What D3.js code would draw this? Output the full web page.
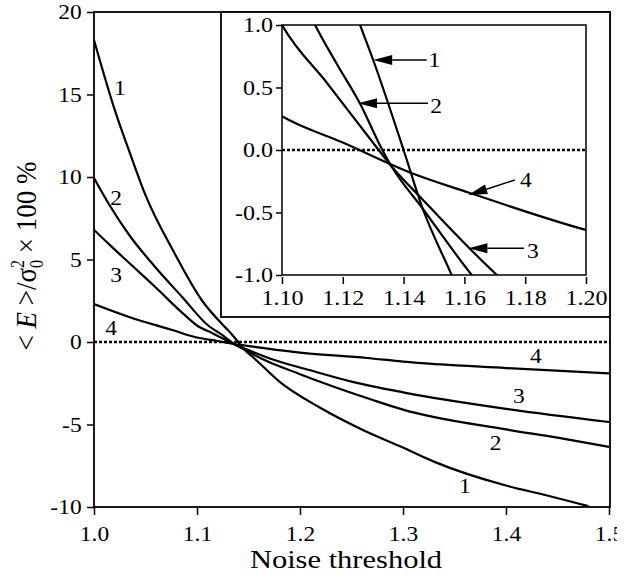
<!DOCTYPE html>
<html><head><meta charset="utf-8">
<script src="https://cdn.jsdelivr.net/npm/d3@7"></script>
<style>
body{margin:0;background:#fff}
svg text{font-family:'Liberation Serif','Tinos','Times New Roman','DejaVu Serif',serif;fill:#000}
</style>
</head><body>
<svg id="c" width="629" height="581"></svg>
<script>
// ---------- data ----------
const seriesNames = ["1", "2", "3", "4"];
const series1 = [[1.0,18.3],[1.021,13.9],[1.034,11.6],[1.05,8.9],[1.078,5.4],[1.105,2.5],[1.1257,1.0],[1.13,0.72],[1.14,0.0],[1.146,-0.45],[1.1558,-1.0],[1.18,-2.4],[1.22,-4.0],[1.26,-5.3],[1.30,-6.4],[1.33,-7.25],[1.40,-8.7],[1.44,-9.3],[1.48,-9.95]];
const series2 = [[1.0,9.94],[1.015,8.3],[1.034,6.5],[1.06,4.5],[1.086,2.7],[1.1109,1.0],[1.118,0.69],[1.1257,0.37],[1.133,0.0],[1.136,-0.13],[1.146,-0.46],[1.1624,-1.0],[1.20,-1.95],[1.27,-3.5],[1.30,-4.1],[1.40,-5.3],[1.45,-5.8],[1.5,-6.36]];
const series3 = [[1.0,6.8],[1.015,5.9],[1.034,4.8],[1.06,3.3],[1.086,1.75],[1.10,1.0],[1.115,0.53],[1.1318,0.0],[1.136,-0.13],[1.146,-0.39],[1.1618,-0.79],[1.1707,-1.0],[1.209,-1.7],[1.25,-2.4],[1.30,-3.05],[1.40,-4.05],[1.5,-4.85]];
const series4 = [[1.0,2.3],[1.034,1.52],[1.076,0.73],[1.10,0.27],[1.12,0.06],[1.1432,-0.19],[1.1613,-0.34],[1.20,-0.64],[1.265,-0.97],[1.30,-1.19],[1.40,-1.58],[1.5,-1.9]];
const allSeries = [series1, series2, series3, series4];

const mainXTicks = [1.0, 1.1, 1.2, 1.3, 1.4, 1.5];
const mainYTicks = [-10, -5, 0, 5, 10, 15, 20];
const insetXTicks = [1.10, 1.12, 1.14, 1.16, 1.18, 1.20];
const insetYTicks = [-1.0, -0.5, 0.0, 0.5, 1.0];

// curve labels in the main plot (data coordinates): upper-left and lower-right
const mainLabelsLeft  = [[1.0252,14.97],[1.0214,8.3],[1.0214,3.64],[1.0165,0.42]];
const mainLabelsRight = [[1.360,-9.15],[1.390,-6.55],[1.4126,-3.7],[1.429,-1.27]];
// inset arrows (data coordinates of the inset): tip, tail, label anchor
const insetArrowTips  = [[1.1300,0.72],[1.1250,0.374],[1.1613,-0.786],[1.1613,-0.36]];
const insetArrowTails = [[1.1476,0.72],[1.1480,0.374],[1.1796,-0.786],[1.1766,-0.24]];
const insetLabelPos   = [[1.1482,0.664],[1.1488,0.296],[1.1806,-0.864],[1.1783,-0.296]];

const xLabel = "Noise threshold";

// ---------- layout ----------
const svg = d3.select("#c");
const defs = svg.append("defs");
const M = {l:94, r:610, t:12, b:507};
const I = {l:282, r:586, t:25, b:275};
const IBOX = {l:221, r:610, t:12, b:317};

defs.append("clipPath").attr("id","pageclip").append("rect").attr("x",0).attr("y",0).attr("width",617).attr("height",581);
defs.append("clipPath").attr("id","mainclip").append("rect").attr("x",M.l).attr("y",M.t).attr("width",M.r-M.l).attr("height",M.b-M.t);
defs.append("clipPath").attr("id","insetclip").append("rect").attr("x",I.l).attr("y",I.t).attr("width",I.r-I.l).attr("height",I.b-I.t);

const root = svg.append("g").attr("clip-path","url(#pageclip)");
root.append("rect").attr("width",629).attr("height",581).attr("fill","#fff");

const x = d3.scaleLinear().domain([1.0,1.5]).range([M.l, 609]);
const y = d3.scaleLinear().domain([-10,20]).range([M.b, M.t]);
const xi = d3.scaleLinear().domain([1.10,1.20]).range([I.l, I.r]);
const yi = d3.scaleLinear().domain([-1,1]).range([I.b, I.t]);

const SX = 1.12;
const FONT = "'Liberation Serif','Tinos','Times New Roman','DejaVu Serif',serif";

function styleAxis(g, fs){
  g.select(".domain").remove();
  g.attr("font-family", null).attr("font-size", null);
  g.selectAll("line").attr("stroke","#000").attr("stroke-width",1.5);
  g.selectAll("text").attr("fill","#000").style("font-family",FONT).style("font-size",fs+"px")
    .attr("transform",`scale(${SX},1)`);
}

// ---------- main plot ----------
root.append("rect").attr("x",M.l).attr("y",M.t).attr("width",M.r-M.l).attr("height",M.b-M.t)
  .attr("fill","none").attr("stroke","#000").attr("stroke-width",1.8);

root.append("line").attr("x1",M.l).attr("x2",M.r).attr("y1",y(0)).attr("y2",y(0))
  .attr("stroke","#000").attr("stroke-width",2.5).attr("stroke-dasharray","3,2");

const lineMain = d3.line().x(d=>x(d[0])).y(d=>y(d[1])).curve(d3.curveMonotoneX);
const gm = root.append("g").attr("clip-path","url(#mainclip)");
allSeries.forEach(s=>{
  gm.append("path").attr("d",lineMain(s)).attr("fill","none").attr("stroke","#000").attr("stroke-width",2.2);
});

root.append("g").attr("transform",`translate(0,${M.b+1})`)
  .call(d3.axisBottom(x).tickValues(mainXTicks).tickFormat(d=>d.toFixed(1)).tickSize(7).tickPadding(11))
  .call(g=>styleAxis(g,21));
root.append("g").attr("transform",`translate(${M.l},0)`)
  .call(d3.axisLeft(y).tickValues(mainYTicks).tickFormat(d=>String(d)).tickSize(7).tickPadding(4))
  .call(g=>styleAxis(g,21));

function label(g, px, py, txt, fs, anchor){
  g.append("text").attr("transform",`translate(${px},${py}) scale(${SX},1)`)
    .attr("text-anchor",anchor).style("font-family",FONT).style("font-size",fs+"px").text(txt);
}
mainLabelsLeft.forEach((p,i)=>label(root, x(p[0]), y(p[1]), seriesNames[i], 21, "middle"));
mainLabelsRight.forEach((p,i)=>label(root, x(p[0]), y(p[1]), seriesNames[i], 21, "middle"));

// axis titles
root.append("text").attr("transform",`translate(346,568) scale(1.22,1)`)
  .attr("text-anchor","middle").style("font-family",FONT).style("font-size","25px").text(xLabel);

const yl = root.append("text").attr("transform",`translate(36,256) scale(${SX},1) rotate(-90)`)
  .attr("text-anchor","middle").style("font-family",FONT).style("font-size","27px");
yl.append("tspan").text("< ");
yl.append("tspan").attr("font-style","italic").text("E");
yl.append("tspan").text(" >/σ");
yl.append("tspan").style("font-size","16px").attr("dy",-11).text("2");
yl.append("tspan").style("font-size","16px").attr("dx",-8).attr("dy",17).text("0");
yl.append("tspan").attr("dy",-6).text(" × 100 %");

// ---------- inset ----------
root.append("rect").attr("x",IBOX.l).attr("y",IBOX.t).attr("width",IBOX.r-IBOX.l).attr("height",IBOX.b-IBOX.t)
  .attr("fill","#fff").attr("stroke","#000").attr("stroke-width",1.8);
root.append("rect").attr("x",I.l).attr("y",I.t).attr("width",I.r-I.l).attr("height",I.b-I.t)
  .attr("fill","none").attr("stroke","#000").attr("stroke-width",1.5);

root.append("line").attr("x1",I.l).attr("x2",I.r).attr("y1",yi(0)).attr("y2",yi(0))
  .attr("stroke","#000").attr("stroke-width",2.5).attr("stroke-dasharray","3,2");

const lineInset = d3.line().x(d=>xi(d[0])).y(d=>yi(d[1])).curve(d3.curveMonotoneX);
const gi = root.append("g").attr("clip-path","url(#insetclip)");
allSeries.forEach(s=>{
  gi.append("path").attr("d",lineInset(s)).attr("fill","none").attr("stroke","#000").attr("stroke-width",2.2);
});

root.append("g").attr("transform",`translate(0,${I.b+2})`)
  .call(d3.axisBottom(xi).tickValues(insetXTicks).tickFormat(d=>d.toFixed(2)).tickSize(7).tickPadding(6))
  .call(g=>styleAxis(g,21.5));
root.append("g").attr("transform",`translate(${I.l},0)`)
  .call(d3.axisLeft(yi).tickValues(insetYTicks).tickFormat(d=>d.toFixed(1)).tickSize(6).tickPadding(2))
  .call(g=>styleAxis(g,21.5));

// arrows
insetArrowTips.forEach((tip,i)=>{
  const tx = xi(tip[0]), ty = yi(tip[1]);
  const ex = xi(insetArrowTails[i][0]), ey = yi(insetArrowTails[i][1]);
  const dx = ex-tx, dy = ey-ty, len = Math.hypot(dx,dy);
  const ux = dx/len, uy = dy/len, hl = 19, hw = 5;
  const bx = tx+ux*hl, by = ty+uy*hl;
  root.append("line").attr("x1",bx).attr("y1",by).attr("x2",ex).attr("y2",ey)
    .attr("stroke","#000").attr("stroke-width",1.5);
  root.append("path").attr("d",`M${tx},${ty}L${bx-uy*hw},${by+ux*hw}L${bx+uy*hw},${by-ux*hw}Z`)
    .attr("fill","#000");
  label(root, xi(insetLabelPos[i][0]), yi(insetLabelPos[i][1]), seriesNames[i], 21, "start");
});
</script>
</body></html>
